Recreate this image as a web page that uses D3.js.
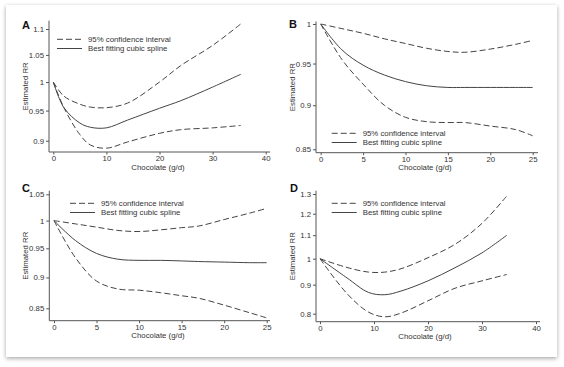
<!DOCTYPE html>
<html><head><meta charset="utf-8">
<script src="https://cdn.jsdelivr.net/npm/d3@7"></script>
<style>
html,body{margin:0;padding:0;background:#fff;}
svg{display:block;font-family:"Liberation Sans",Arial,sans-serif;}
</style></head>
<body>
<svg id="c" width="564" height="367"></svg>
<script>
// ---- data ----
const panelLabels = ["A","B","C","D"];
const xLabel = "Chocolate (g/d)";
const yLabel = "Estimated RR";
const legendLabels = ["95% confidence interval","Best fitting cubic spline"];

const xTicksA = [0,10,20,30,40];
const yTicksA = [0.9,0.95,1,1.05,1.1];
const xA = [0,2,5,7,10,14,20,24,30,35.3];
const upperA = [1,0.975,0.961,0.956,0.955,0.963,1.0,1.03,1.068,1.11];
const fitA   = [1,0.955,0.929,0.922,0.921,0.934,0.954,0.967,0.991,1.014];
const lowerA = [1,0.955,0.91,0.893,0.888,0.898,0.912,0.918,0.921,0.925];

const xTicksB = [0,5,10,15,20,25];
const yTicksB = [0.85,0.9,0.95,1];
const xB = [0,2.5,5,7.5,10,12.5,15,17,20,23,25];
const upperB = [1,0.994,0.988,0.981,0.975,0.969,0.965,0.964,0.968,0.974,0.979];
const fitB   = [1,0.967,0.948,0.936,0.928,0.923,0.921,0.921,0.921,0.921,0.921];
const lowerB = [1,0.955,0.925,0.9,0.886,0.881,0.880,0.880,0.876,0.872,0.865];

const xTicksC = [0,5,10,15,20,25];
const yTicksC = [0.85,0.9,0.95,1,1.05];
const xC = [0,2.5,5,7.5,10,12.5,15,17,20,23,25];
const upperC = [1,0.994,0.988,0.982,0.980,0.983,0.987,0.990,1.002,1.014,1.023];
const fitC   = [1,0.964,0.941,0.931,0.929,0.929,0.928,0.927,0.926,0.925,0.925];
const lowerC = [1,0.934,0.894,0.881,0.879,0.875,0.870,0.866,0.855,0.843,0.835];

const xTicksD = [0,10,20,30,40];
const yTicksD = [0.8,0.9,1,1.1,1.2,1.3];
const xD = [0,5,9,12,15,20,25,30,34.6];
const upperD = [1,0.965,0.947,0.947,0.96,1.004,1.06,1.154,1.29];
const fitD   = [1,0.925,0.872,0.864,0.877,0.914,0.964,1.024,1.10];
const lowerD = [1,0.868,0.805,0.79,0.802,0.843,0.887,0.914,0.938];

// ---- layout ----
const svg = d3.select("#c");
const defs = svg.append("defs");
const f = defs.append("filter").attr("id","sh").attr("x","-5%").attr("y","-5%").attr("width","110%").attr("height","115%");
f.append("feDropShadow").attr("dx",0).attr("dy",1.5).attr("stdDeviation",2).attr("flood-color","#000").attr("flood-opacity",0.35);
svg.append("rect").attr("x",6).attr("y",5).attr("width",551).attr("height",352)
  .attr("fill","#fff").attr("filter","url(#sh)");

const panels = [
  {lab:panelLabels[0], xs:xA, series:[upperA,fitA,lowerA], xt:xTicksA, yt:yTicksA,
   xd:[0,40], xr:[53.3,265.7], yd:[0.9,1.1], yr:[140.7,29], axX:49, axTop:20.7, axBot:152, axRight:270,
   labXY:[22,29], yLabX:25, xLabX:158, legX:57, legY:39.3},
  {lab:panelLabels[1], xs:xB, series:[upperB,fitB,lowerB], xt:xTicksB, yt:yTicksB,
   xd:[0,25], xr:[320.7,532.7], yd:[0.85,1], yr:[149.3,24], axX:316, axTop:21.5, axBot:152.7, axRight:538,
   labXY:[289,27.5], yLabX:292.5, xLabX:425, legX:331.7, legY:133.3},
  {lab:panelLabels[2], xs:xC, series:[upperC,fitC,lowerC], xt:xTicksC, yt:yTicksC,
   xd:[0,25], xr:[54,266.7], yd:[0.85,1.05], yr:[308.3,194.3], axX:49.3, axTop:190.7, axBot:320.7, axRight:270,
   labXY:[22,192], yLabX:25, xLabX:158, legX:70, legY:203.3},
  {lab:panelLabels[3], xs:xD, series:[upperD,fitD,lowerD], xt:xTicksD, yt:yTicksD,
   xd:[0,40], xr:[320,536], yd:[0.8,1.3], yr:[313.7,194], axX:316, axTop:190.7, axBot:321.7, axRight:540,
   labXY:[290,192], yLabX:292.5, xLabX:425, legX:331.7, legY:203.3}
];

const ink = "#444";
const fs = 7.8;
panels.forEach(p => {
  const x = d3.scaleLinear().domain(p.xd).range(p.xr);
  const y = d3.scaleLog().domain(p.yd).range(p.yr);
  const g = svg.append("g");
  g.append("line").attr("x1",p.axX).attr("x2",p.axX).attr("y1",p.axTop).attr("y2",p.axBot)
    .attr("stroke","#555").attr("stroke-width",1);
  g.append("line").attr("x1",p.axX).attr("x2",p.axRight).attr("y1",p.axBot).attr("y2",p.axBot)
    .attr("stroke","#555").attr("stroke-width",1);
  const ya = d3.axisLeft(y).tickValues(p.yt).tickFormat(d=>d3.format("~g")(d)).tickSize(3).tickPadding(2);
  const yg = g.append("g").attr("transform",`translate(${p.axX},0)`).call(ya);
  const xa = d3.axisBottom(x).tickValues(p.xt).tickFormat(d3.format("d")).tickSize(2.5).tickPadding(1);
  const xg = g.append("g").attr("transform",`translate(0,${p.axBot})`).call(xa);
  [yg,xg].forEach(a=>{
    a.select(".domain").remove();
    a.selectAll("line").attr("stroke","#555");
    a.selectAll("text").attr("fill","#333").attr("font-size",fs).attr("font-family","Liberation Sans, Arial, sans-serif");
  });
  const line = d3.line().x((d,i)=>x(p.xs[i])).y(d=>y(d)).curve(d3.curveCatmullRom.alpha(0.5));
  p.series.forEach((s,i)=>{
    g.append("path").attr("d",line(s)).attr("fill","none").attr("stroke",ink)
      .attr("stroke-width",1).attr("stroke-dasharray", i===1?null:"6,3");
  });
  g.append("text").attr("x",p.labXY[0]).attr("y",p.labXY[1]).text(p.lab)
    .attr("font-weight","bold").attr("font-size",11).attr("fill","#111");
  g.append("text").attr("transform",`translate(${p.yLabX},${(p.axTop+p.axBot)/2}) rotate(-90)`)
    .attr("text-anchor","middle").attr("dy","0.35em").attr("font-size",fs).attr("fill","#333").text(yLabel);
  g.append("text").attr("x",p.xLabX).attr("y",p.axBot+17.5).attr("text-anchor","middle")
    .attr("font-size",fs).attr("fill","#333").text(xLabel);
  legendLabels.forEach((t,i)=>{
    const ly = p.legY + i*9.2;
    g.append("line").attr("x1",p.legX).attr("x2",p.legX+25).attr("y1",ly).attr("y2",ly)
      .attr("stroke",ink).attr("stroke-width",1).attr("stroke-dasharray", i===0?"6,3":null);
    g.append("text").attr("x",p.legX+31).attr("y",ly).attr("dy","0.35em")
      .attr("font-size",fs).attr("fill","#333").text(t);
  });
});
</script>
</body></html>
